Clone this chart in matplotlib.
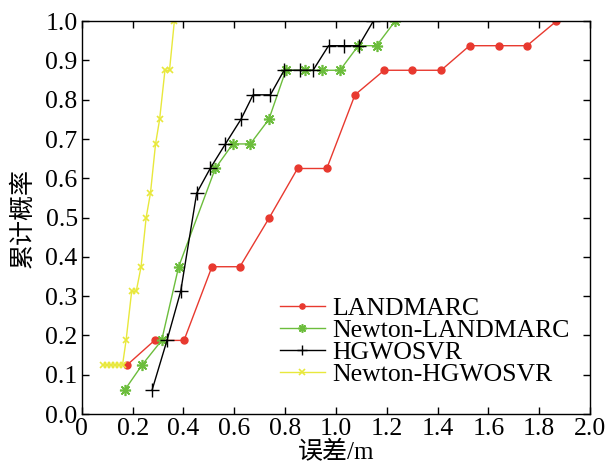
import numpy as np
import matplotlib.pyplot as plt

plt.rcParams['font.family'] = ['Liberation Serif', 'Noto Sans CJK SC']

# cumulative error distributions (error in m, cumulative probability)
err_landmarc = [0.178, 0.286, 0.402, 0.512, 0.622, 0.738, 0.849, 0.964,
                1.075, 1.190, 1.301, 1.414, 1.526, 1.642, 1.752, 1.868]
cdf_landmarc = [0.125, 0.1875, 0.1875, 0.375, 0.375, 0.5, 0.625, 0.625,
                0.8125, 0.875, 0.875, 0.875, 0.9375, 0.9375, 0.9375, 1.0]

err_newton_landmarc = [0.170, 0.237, 0.314, 0.381, 0.525, 0.594, 0.663, 0.736,
                       0.803, 0.878, 0.946, 1.016, 1.088, 1.160, 1.233]
cdf_newton_landmarc = [0.0625, 0.125, 0.1875, 0.375, 0.625, 0.6875, 0.6875, 0.75,
                       0.875, 0.875, 0.875, 0.875, 0.9375, 0.9375, 1.0]

err_hgwosvr = [0.277, 0.335, 0.389, 0.452, 0.505, 0.565, 0.626, 0.674,
               0.742, 0.796, 0.858, 0.910, 0.971, 1.032, 1.090, 1.147]
cdf_hgwosvr = [0.0625, 0.1875, 0.3125, 0.5625, 0.625, 0.6875, 0.75, 0.8125,
               0.8125, 0.875, 0.875, 0.875, 0.9375, 0.9375, 0.9375, 1.0]

err_newton_hgwosvr = [0.085, 0.100, 0.115, 0.130, 0.145, 0.160, 0.174, 0.196, 0.214,
                      0.233, 0.253, 0.270, 0.290, 0.306, 0.327, 0.345, 0.364]
cdf_newton_hgwosvr = [0.125, 0.125, 0.125, 0.125, 0.125, 0.125, 0.1875, 0.3125, 0.3125,
                      0.375, 0.5, 0.5625, 0.6875, 0.75, 0.875, 0.875, 1.0]

x_ticks = [0, 0.2, 0.4, 0.6, 0.8, 1.0, 1.2, 1.4, 1.6, 1.8, 2.0]
x_ticklabels = ['0', '0.2', '0.4', '0.6', '0.8', '1.0', '1.2', '1.4', '1.6', '1.8', '2.0']
y_ticks = np.round(np.arange(0, 1.01, 0.1), 1)

fig = plt.figure(figsize=(6.11, 4.70), dpi=100)
ax = fig.add_axes([0.134, 0.119, 0.8316, 0.836])

ax.plot(err_landmarc, cdf_landmarc, '-o', color='#e8392f', lw=1.0, ms=5,
        mec='#e8392f', label='LANDMARC')
ax.plot(err_newton_landmarc, cdf_newton_landmarc, '-', color='#6cbd3c', lw=1.0,
        marker=(8, 2, 0), ms=8, mew=1.2, label='Newton-LANDMARC')
ax.plot(err_hgwosvr, cdf_hgwosvr, '-+', color='black', lw=1.0, ms=10, mew=1.0,
        label='HGWOSVR')
ax.plot(err_newton_hgwosvr, cdf_newton_hgwosvr, '-x', color='#e8e83c', lw=1.0,
        ms=5, mew=1.2, label='Newton-HGWOSVR')

ax.set_xlim(0, 2.0)
ax.set_ylim(0, 1.0)
ax.set_xticks(x_ticks)
ax.set_xticklabels(x_ticklabels)
ax.set_yticks(y_ticks)
ax.set_yticklabels(['%.1f' % v for v in y_ticks])
ax.tick_params(direction='in', top=True, right=True, length=5, width=1,
               labelsize=18.5, pad=3)
for s in ax.spines.values():
    s.set_linewidth(1.0)

ax.set_xlabel('误差/m', fontsize=18, labelpad=0)
ax.set_ylabel('累计概率', fontsize=18, labelpad=8)

leg = ax.legend(loc='upper left', bbox_to_anchor=(280 / 611, 1 - 297 / 470),
                bbox_transform=fig.transFigure, frameon=False, fontsize=18.5,
                borderpad=0, handlelength=1.75, handletextpad=0.3,
                labelspacing=-0.04, borderaxespad=0, markerscale=0.75)

fig.savefig('out.png', dpi=100)
